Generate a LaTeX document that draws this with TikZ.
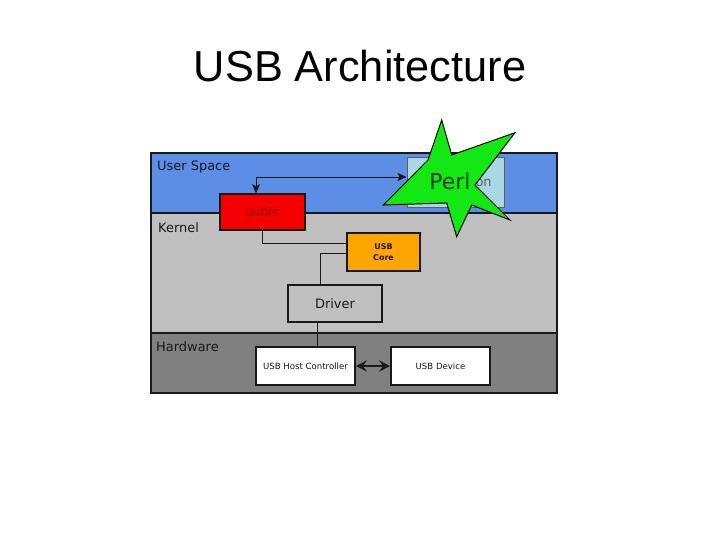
\documentclass[tikz,border=0pt]{standalone}
\usepackage{fontspec}
\setmainfont{DejaVu Sans}
\newfontfamily\titlefont{Liberation Sans}
\usepackage{xcolor}
\usetikzlibrary{arrows.meta}
\definecolor{userblue}{RGB}{92, 142, 230}
\definecolor{kernelgray}{RGB}{192, 192, 192}
\definecolor{hwgray}{RGB}{128, 128, 128}
\definecolor{usbred}{RGB}{245, 0, 0}
\definecolor{usbredtext}{RGB}{150, 10, 10}
\definecolor{coreorange}{RGB}{255, 165, 0}
\definecolor{applight}{RGB}{170, 216, 226}
\definecolor{perlgreen}{RGB}{20, 232, 20}
\definecolor{darkline}{RGB}{25, 25, 25}

\tikzset{
  layer/.style={anchor=west, font=\fontsize{13}{15}\selectfont, text=darkline, inner sep=0pt},
  block/.style={draw=darkline, line width=1.6bp, inner sep=0pt, align=center},
  wire/.style={draw=darkline, line width=0.9bp},
}

\begin{document}
\begin{tikzpicture}[x=1bp, y=-1bp]
\useasboundingbox (0,0) rectangle (720,540);
\node[anchor=base] (title) at (360,82) {\titlefont\fontsize{43.5}{50}\selectfont USB Architecture};

% layers
\fill[userblue] (151,153) rectangle (557,213);
\fill[kernelgray] (151,213) rectangle (557,333);
\fill[hwgray] (151,333) rectangle (557,393);
\draw[darkline, line width=1.8bp] (151,213) -- (557,213);
\draw[darkline, line width=1.8bp] (151,333) -- (557,333);
\draw[darkline, line width=1.8bp] (151,153) rectangle (557,393);
\node[layer] (userlbl) at (157,167) {User Space};
\node[layer] (kernlbl) at (158,228) {Kernel};
\node[layer] (hwlbl) at (156,347) {Hardware};

% boxes
\node[block, fill=applight, minimum width=97bp, minimum height=50bp, draw=darkline!70, line width=1bp,
      font=\fontsize{13}{15}\selectfont, text=black!65] (app) at (455.5,183) {Application};
\node[block, fill=usbred, minimum width=85bp, minimum height=36bp,
      font=\fontsize{12.5}{15}\selectfont, text=usbredtext] (usbfs) at (262.5,212) {usbfs};
\node[block, fill=coreorange, minimum width=73bp, minimum height=38bp,
      font=\bfseries\fontsize{8}{11}\selectfont, text=darkline] (core) at (383.5,252) {USB\\Core};
\node[block, fill=kernelgray, minimum width=94bp, minimum height=37bp,
      font=\fontsize{13}{15}\selectfont, text=darkline] (driver) at (335,303.5) {Driver};
\node[block, fill=white, minimum width=99bp, minimum height=38bp,
      font=\fontsize{8.6}{11}\selectfont, text=darkline] (hc) at (305.5,366) {USB Host Controller};
\node[block, fill=white, minimum width=99bp, minimum height=38bp,
      font=\fontsize{8.6}{11}\selectfont, text=darkline] (dev) at (440.5,366) {USB Device};

% connectors
\draw[wire, {Stealth[length=9bp,width=8bp,inset=2bp]}-{Stealth[length=9bp,width=8bp,inset=2bp]}]
  ([xshift=-6.5bp]usbfs.north) |- ([yshift=6bp]app.west);
\draw[wire] (usbfs.south) |- ([yshift=9bp]core.west);
\draw[wire] ([yshift=-1bp]core.west) -| ([xshift=-15bp]driver.north);
\draw[wire] ([xshift=-18bp]driver.south) -- ([xshift=-18bp]driver.south |- hc.north);
\draw[darkline, line width=2.2bp, {Stealth[length=11bp,width=11bp,inset=4bp]}-{Stealth[length=11bp,width=11bp,inset=4bp]}]
  (hc.east) -- (dev.west);

% the star
\draw[fill=perlgreen, draw=black, line width=1bp]
  (441.7,120) -- (451.7,155) -- (515,132.7) -- (475,185) -- (510,220)
  -- (471.7,205) -- (456.7,236.7) -- (446.7,203) -- (383.3,205) -- (428,160) -- cycle;
\node[font=\fontsize{22}{26}\selectfont, text=green!25!black] (perl) at (450,181.7) {Perl};
\end{tikzpicture}
\end{document}
